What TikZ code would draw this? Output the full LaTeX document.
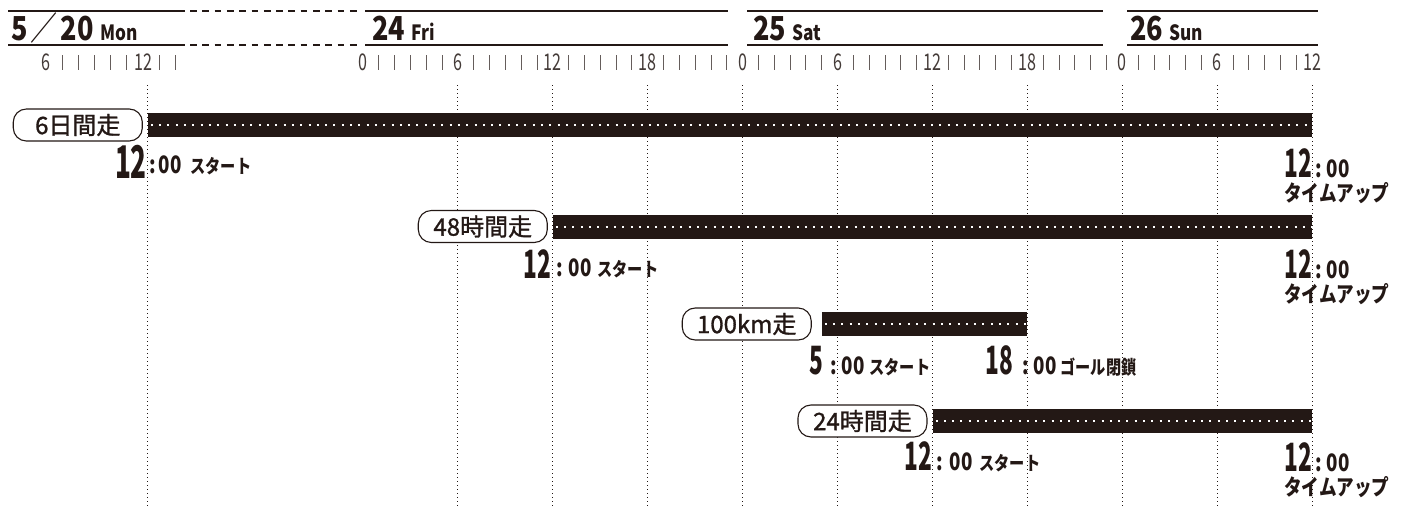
\documentclass[tikz,border=0pt]{standalone}
\usepackage{fontspec}
\setmainfont{Noto Sans CJK JP}
\newfontfamily\headfont[FakeStretch=0.82]{Noto Sans CJK JP}
\newfontfamily\numfont[FakeStretch=0.58]{Noto Sans CJK JP}
\newfontfamily\minfont[FakeStretch=0.78]{Noto Sans CJK JP}
\newfontfamily\kanafont[FakeStretch=0.8]{Noto Sans CJK JP}
\newfontfamily\hourfont[FakeStretch=0.7]{Noto Sans CJK JP}
\newfontfamily\boxfont[FakeBold=1.2]{Noto Sans CJK JP}
\definecolor{ink}{RGB}{35,24,21}

\begin{document}
\begin{tikzpicture}[x=1pt, y=-1pt]
	\tikzstyle{dayrule}  = [draw=ink, line width=2pt]
	\tikzstyle{daytitle} = [anchor=base west, inner sep=0pt, text=ink, font=\headfont\bfseries\fontsize{33}{33}\selectfont]
	\tikzstyle{hourlbl}  = [inner sep=0pt, text=ink!85, font=\hourfont\fontsize{23}{23}\selectfont]
	\tikzstyle{hourtick} = [draw=ink!70, line width=1pt]
	\tikzstyle{guide}    = [draw=ink, line width=1pt, dash pattern=on 1pt off 3pt]
	\tikzstyle{bar}      = [draw=ink, line width=24pt]
	\tikzstyle{bardots}  = [draw=white, line width=2pt, dash pattern=on 2pt off 6.3pt]
	\tikzstyle{racebox}  = [draw=ink, fill=white, line width=1.1pt, rounded corners=13pt, minimum width=129pt, minimum height=32pt, inner sep=0pt, text=ink, font=\boxfont\fontsize{24}{24}\selectfont]
	\tikzstyle{bignum}   = [inner sep=0pt, text=ink, font=\numfont\bfseries\fontsize{39}{39}\selectfont]
	\tikzstyle{smalltxt} = [inner sep=0pt, text=ink, font=\minfont\bfseries\fontsize{24}{24}\selectfont]
	\tikzstyle{kanatxt}  = [inner sep=0pt, text=ink, font=\kanafont\bfseries\fontsize{22}{22}\selectfont]

	\useasboundingbox (0,0) rectangle (1405,506);
%	\draw[step=50pt, gray!30] (0,0) grid (1405,506);

	% days
	\foreach \a/\b in {8/185, 365/728, 747/1103, 1127/1318} {
		\draw[dayrule] (\a,11) -- (\b,11);
		\draw[dayrule] (\a,45) -- (\b,45);
	}
	\draw[dayrule, dash pattern=on 6.7pt off 5.6pt] (190,11) -- (362,11);
	\draw[dayrule, dash pattern=on 6.7pt off 5.6pt] (190,45) -- (362,45);

	\node[daytitle] (mon) at (11,40) {5\hspace{3pt}{\mdseries ／}\hspace{3pt}20\hspace{7pt}{\fontsize{21}{21}\selectfont Mon}};
	\foreach \name/\x/\d/\w in {fri/372/24/Fri, sat/753/25/Sat, sun/1130/26/Sun}
		\node[daytitle] (\name) at (\x,40) {\d\hspace{6pt}{\fontsize{21}{21}\selectfont \w}};

	% hours
	\foreach \h in {6, 12}
		\node[hourlbl] (m\h) at ({143+16.2*(\h-12)},62) {\h};
	\foreach \h in {7,...,11,13,14}
		\draw[hourtick] ({143+16.2*(\h-12)},55) -- ++(0,15);
	\foreach \h/\t in {0/0, 6/6, 12/12, 18/18, 24/0, 30/6, 36/12, 42/18, 48/0, 54/6, 60/12}
		\node[hourlbl] (h\h) at ({363+15.82*\h},62) {\t};
	\foreach \d in {0,6,...,54}
		\foreach \k in {1,...,5}
			\draw[hourtick] ({363+15.82*(\d+\k)},55) -- ++(0,15);

	\draw[guide] (147,85) -- (147,506);
	\foreach \h in {6,12,...,60}
		\draw[guide] ({363+15.82*\h},85) -- ({363+15.82*\h},506);

	% races
	\foreach \n/\txt/\hs/\he/\y/\gap in {1/6日間走/-13.6/60/125/5, 2/48時間走/12/60/226.5/5, 3/100km走/29/42/324/10, 4/24時間走/36/60/421/5} {
		\coordinate (bs\n) at ({363+15.82*\hs},\y);
		\coordinate (be\n) at ({363+15.82*\he},\y);
		\draw[bar] (bs\n) -- (be\n);
		\draw[bardots] ([xshift=3pt]bs\n) -- (be\n);
		\node[racebox, anchor=east] (r\n) at ([xshift=-\gap]bs\n) {\txt};
	}

	% start / goal times
	\node[bignum, font=\numfont\bfseries\fontsize{45}{45}\selectfont, anchor=base east] (s1) at (147,178) {12};
	\node[smalltxt, anchor=base west] (s1t) at ([xshift=2pt,yshift=5pt]s1.base east) {:\hspace{3pt}00\hspace{9pt}{\kanafont\fontsize{19}{19}\selectfont スタート}};
	\node[bignum, anchor=base east] (s2) at (551,278) {12};
	\node[smalltxt, anchor=base west] (s2t) at ([xshift=5pt,yshift=2pt]s2.base east) {:\hspace{6pt}00\hspace{6pt}{\kanafont\fontsize{19}{19}\selectfont スタート}};
	\node[bignum, anchor=base east] (s3) at (823,374) {5};
	\node[smalltxt, anchor=base west] (s3t) at ([xshift=7pt]s3.base east) {:\hspace{5pt}00\hspace{5pt}{\kanafont\fontsize{19}{19}\selectfont スタート}};
	\node[bignum, anchor=base east] (g3) at (1013,374) {18};
	\node[smalltxt, anchor=base west] (g3t) at ([xshift=9pt]g3.base east) {:\hspace{5pt}00\hspace{4pt}{\kanafont\fontsize{19}{19}\selectfont ゴール閉鎖}};
	\node[bignum, anchor=base east] (s4) at (932,470) {12};
	\node[smalltxt, anchor=base west] (s4t) at ([xshift=4pt]s4.base east) {:\hspace{7pt}00\hspace{7pt}{\kanafont\fontsize{19}{19}\selectfont スタート}};

	\foreach \n/\y in {1/177, 2/278, 4/471} {
		\node[bignum, anchor=base east] (e\n) at (1312,\y) {12};
		\node[smalltxt, anchor=base west] (e\n t) at ([xshift=3pt]e\n.base east) {:\hspace{5pt}00};
		\node[kanatxt, anchor=north west] (e\n u) at ([yshift=-5pt]e\n.south west) {タイムアップ};
	}
\end{tikzpicture}
\end{document}
